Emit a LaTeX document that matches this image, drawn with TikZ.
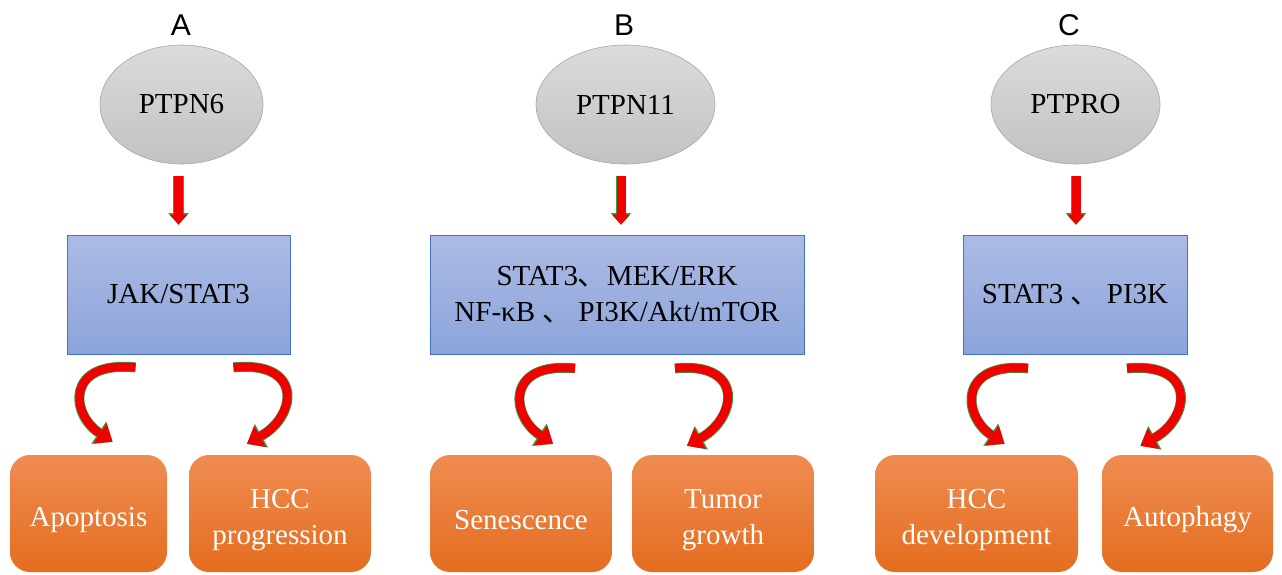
\documentclass[tikz,border=0pt]{standalone}
\usepackage{fontspec}
\setmainfont{Liberation Serif}
\newfontfamily\cjk{Noto Sans CJK SC}
\newfontfamily\panelfont{Liberation Sans}
\usetikzlibrary{positioning,arrows.meta,shapes.geometric,calc}
\definecolor{genetop}{HTML}{DBDBDB}
\definecolor{genebot}{HTML}{C2C2C2}
\definecolor{genedraw}{HTML}{A6A6A6}
\definecolor{pwtop}{HTML}{ACBBE5}
\definecolor{pwbot}{HTML}{8CA4DA}
\definecolor{pwdraw}{HTML}{4472C4}
\definecolor{outtop}{HTML}{EF8C52}
\definecolor{outbot}{HTML}{E46D1F}
\definecolor{arrowred}{HTML}{F20000}
\definecolor{arrowgreen}{HTML}{2EA043}
\newcommand{\dropstrut}{\rule{0pt}{32pt}}

\begin{document}
\begin{tikzpicture}[x=1pt,y=-1pt,
    every node/.style={font=\fontsize{29}{36}\selectfont},
    panel/.style={font=\panelfont\fontsize{30}{36}\selectfont},
    gene/.style={ellipse, draw=genedraw, line width=0.6pt, top color=genetop, bottom color=genebot,
      minimum height=119pt, inner sep=0pt},
    pathway/.style={rectangle, draw=pwdraw, line width=0.8pt, top color=pwtop, bottom color=pwbot,
      minimum height=119pt, inner sep=0pt, align=center},
    outcome/.style={rectangle, rounded corners=20pt, top color=outtop, bottom color=outbot,
      text=white, minimum height=117pt, inner sep=0pt, align=center},
    downarrow/.style={arrowred, line width=9pt,
      -{Triangle[width=18pt,length=10pt,line width=0pt]},
      preaction={draw=arrowgreen, line width=10.5pt, -{Triangle[width=20.5pt,length=11.5pt,line width=0pt]}}},
    bendarrow/.style={arrowred, line width=8.5pt,
      -{Triangle[width=24pt,length=15pt,line width=0pt]},
      preaction={draw=arrowgreen, line width=10pt, -{Triangle[width=27pt,length=16.5pt,line width=0pt]}}}]
  \useasboundingbox (0,0) rectangle (1282,574);

  % A -- PTPN6
  \node[panel] (labA) at (181,25) {A};
  \node[gene, minimum width=163pt] (ellA) at (181.5,104.5) {PTPN6};
  \node[pathway, minimum width=223pt] (rectA) at (178.5,294.5) {JAK/STAT3};
  \node[outcome, minimum width=157pt] (outA1) at (88.5,513.5) {\dropstrut Apoptosis};
  \node[outcome, minimum width=182pt] (outA2) at (280,513.5) {\dropstrut HCC\\progression};
  \draw[downarrow] ($(ellA.south -| rectA.north)+(0,12)$) -- ($(rectA.north)+(0,-10)$);
  \coordinate (tA1) at ($(rectA.south)+(-43,13)$);
  \coordinate (hA1) at ($(outA1.north)+(24,-13)$);
  \coordinate (tA2) at ($(rectA.south)+(55,13)$);
  \coordinate (hA2) at ($(outA2.north)+(-33,-11)$);
  \draw[bendarrow] (tA1) .. controls +(-70,-7) and +(-42,-28) .. (hA1);
  \draw[bendarrow] (tA2) .. controls +(70,-7) and +(50,-28) .. (hA2);

  % B -- PTPN11
  \node[panel] (labB) at (624,25) {B};
  \node[gene, minimum width=179pt] (ellB) at (625.5,104.5) {PTPN11};
  \node[pathway, minimum width=374pt] (rectB) at (617,294.5)
    {STAT3{\cjk 、}MEK/ERK\\NF-κB {\cjk 、} PI3K/Akt/mTOR};
  \node[outcome, minimum width=182pt] (outB1) at (521,513.5) {\dropstrut Senescence};
  \node[outcome, minimum width=182pt] (outB2) at (723,513.5) {\dropstrut Tumor\\growth};
  \draw[downarrow] ($(ellB.south -| rectB.north)+(4,12)$) -- ($(rectB.north)+(4,-10)$);
  \coordinate (tB1) at ($(rectB.south)+(-42,14)$);
  \coordinate (hB1) at ($(outB1.north)+(32,-11)$);
  \coordinate (tB2) at ($(rectB.south)+(58,14)$);
  \coordinate (hB2) at ($(outB2.north)+(-36,-9)$);
  \draw[bendarrow] (tB1) .. controls +(-70,-7) and +(-42,-28) .. (hB1);
  \draw[bendarrow] (tB2) .. controls +(70,-7) and +(50,-28) .. (hB2);

  % C -- PTPRO
  \node[panel] (labC) at (1069,25) {C};
  \node[gene, minimum width=169pt] (ellC) at (1075.5,104.5) {PTPRO};
  \node[pathway, minimum width=224pt] (rectC) at (1075,294.5) {STAT3 {\cjk 、} PI3K};
  \node[outcome, minimum width=203pt] (outC1) at (976.5,513.5) {\dropstrut HCC\\development};
  \node[outcome, minimum width=171pt] (outC2) at (1187.5,513.5) {\dropstrut Autophagy};
  \draw[downarrow] ($(ellC.south -| rectC.north)+(1,12)$) -- ($(rectC.north)+(1,-10)$);
  \coordinate (tC1) at ($(rectC.south)+(-47,14)$);
  \coordinate (hC1) at ($(outC1.north)+(28,-11)$);
  \coordinate (tC2) at ($(rectC.south)+(52,14)$);
  \coordinate (hC2) at ($(outC2.north)+(-47,-9)$);
  \draw[bendarrow] (tC1) .. controls +(-70,-7) and +(-42,-28) .. (hC1);
  \draw[bendarrow] (tC2) .. controls +(70,-7) and +(50,-28) .. (hC2);
\end{tikzpicture}
\end{document}
